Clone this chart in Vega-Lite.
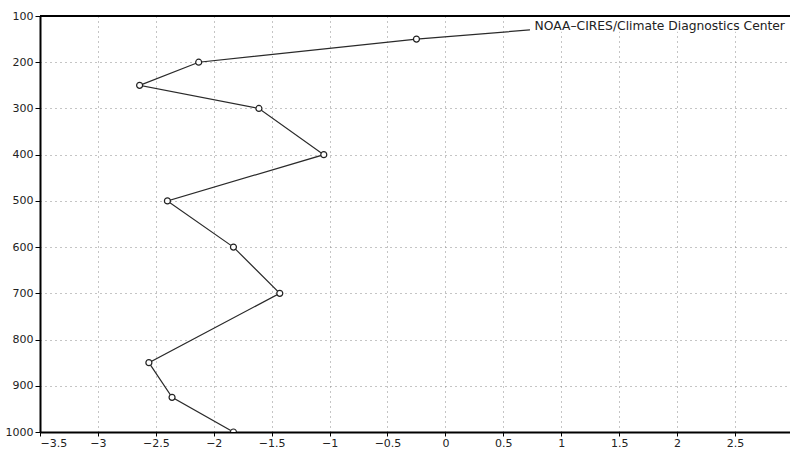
{
  "$schema": "https://vega.github.io/schema/vega-lite/v6.json",
  "autosize": {"type": "none"},
  "width": 750,
  "height": 416,
  "padding": {"left": 40, "top": 16, "right": 0, "bottom": 19},
  "background": "white",
  "config": {
    "view": {"stroke": null},
    "axis": {
      "labelFont": "DejaVu Sans",
      "labelFontSize": 11,
      "labelColor": "#222222",
      "domainColor": "black",
      "domainWidth": 2,
      "tickColor": "black",
      "tickSize": 5,
      "gridColor": "#8a8a8a",
      "gridDash": [1, 4],
      "gridWidth": 1,
      "title": null
    }
  },
  "datasets": {
    "profile": [
      {"level": 1000, "value": -1.83},
      {"level": 925, "value": -2.36},
      {"level": 850, "value": -2.56},
      {"level": 700, "value": -1.43},
      {"level": 600, "value": -1.83},
      {"level": 500, "value": -2.40},
      {"level": 400, "value": -1.05},
      {"level": 300, "value": -1.61},
      {"level": 250, "value": -2.64},
      {"level": 200, "value": -2.13},
      {"level": 150, "value": -0.25},
      {"level": 100, "value": 2.22}
    ],
    "note": [
      {"label": "NOAA\u2013CIRES/Climate Diagnostics Center", "x": 0.77, "y": 121, "x0": 0.73, "x1": 2.975, "y0": 100, "y1": 134}
    ]
  },
  "layer": [
    {
      "data": {"name": "profile"},
      "mark": {"type": "line", "color": "#2a2a2a", "strokeWidth": 1.2, "clip": true},
      "encoding": {
        "x": {
          "field": "value",
          "type": "quantitative",
          "scale": {"domain": [-3.5, 2.975], "nice": false, "zero": false},
          "axis": {"values": [-3.5, -3, -2.5, -2, -1.5, -1, -0.5, 0, 0.5, 1, 1.5, 2, 2.5], "format": "~g", "labelPadding": 1, "tickSize": 4, "grid": true}
        },
        "y": {
          "field": "level",
          "type": "quantitative",
          "scale": {"domain": [100, 1000], "reverse": true, "nice": false, "zero": false},
          "axis": {"values": [100, 200, 300, 400, 500, 600, 700, 800, 900, 1000], "format": "d", "labelPadding": 2, "grid": true}
        },
        "order": {"field": "level", "sort": "descending"}
      }
    },
    {
      "data": {"name": "profile"},
      "mark": {"type": "point", "shape": "circle", "filled": true, "fill": "white", "stroke": "#222222", "strokeWidth": 1.2, "size": 36, "opacity": 1, "clip": true},
      "encoding": {
        "x": {"field": "value", "type": "quantitative"},
        "y": {"field": "level", "type": "quantitative"}
      }
    },
    {
      "data": {"name": "note"},
      "mark": {"type": "rect", "color": "white"},
      "encoding": {
        "x": {"field": "x0", "type": "quantitative"},
        "x2": {"field": "x1"},
        "y": {"field": "y0", "type": "quantitative"},
        "y2": {"field": "y1"}
      }
    },
    {
      "data": {"name": "note"},
      "mark": {"type": "rule", "color": "black", "strokeWidth": 2},
      "encoding": {"y": {"field": "y0", "type": "quantitative"}}
    },
    {
      "data": {"name": "note"},
      "mark": {"type": "text", "align": "left", "baseline": "middle", "font": "DejaVu Sans", "fontSize": 12.3, "fontWeight": "normal", "color": "#222222"},
      "encoding": {
        "x": {"field": "x", "type": "quantitative"},
        "y": {"field": "y", "type": "quantitative"},
        "text": {"field": "label"}
      }
    }
  ]
}
